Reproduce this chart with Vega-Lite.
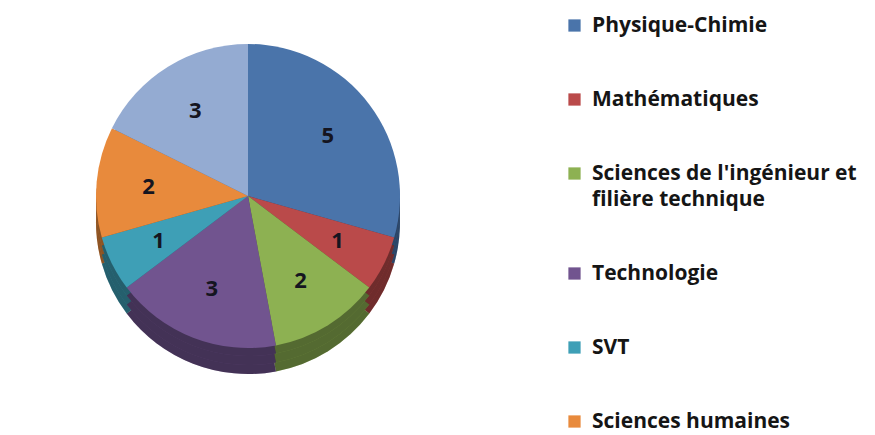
{
  "$schema": "https://vega.github.io/schema/vega-lite/v6.json",
  "width": 496,
  "height": 392,
  "padding": 0,
  "autosize": {"type": "pad"},
  "background": "white",
  "view": {"stroke": null},
  "data": {
    "values": [
      {"matiere": "Physique-Chimie", "n": 5, "rang": 1},
      {"matiere": "Mathématiques", "n": 1, "rang": 2},
      {"matiere": "Sciences de l'ingénieur et filière technique", "n": 2, "rang": 3},
      {"matiere": "Technologie", "n": 3, "rang": 4},
      {"matiere": "SVT", "n": 1, "rang": 5},
      {"matiere": "Sciences humaines", "n": 2, "rang": 6},
      {"matiere": "Autres", "n": 3, "rang": 7}
    ]
  },
  "encoding": {
    "theta": {"field": "n", "type": "quantitative", "stack": true},
    "order": {"field": "rang", "type": "quantitative"},
    "color": {
      "field": "matiere",
      "type": "nominal",
      "scale": {
        "domain": ["Physique-Chimie", "Mathématiques", "Sciences de l'ingénieur et filière technique", "Technologie", "SVT", "Sciences humaines", "Autres"],
        "range": ["#4A74AA", "#BA4A4A", "#8DB152", "#71548F", "#3E9FB6", "#E88A3C", "#94ABD2"]
      },
      "legend": {
        "title": null,
        "orient": "none",
        "legendX": 564,
        "legendY": 15,
        "values": ["Physique-Chimie", "Mathématiques", "Sciences de l'ingénieur et filière technique", "Technologie", "SVT", "Sciences humaines"],
        "symbolType": "square",
        "symbolSize": 150,
        "symbolStrokeWidth": 0,
        "labelFont": "Open Sans",
        "labelFontSize": 21,
        "labelFontWeight": "bold",
        "labelColor": "#151515",
        "labelLimit": 400,
        "labelOffset": 7,
        "rowPadding": 52,
        "labelExpr": "datum.label == \"Sciences de l'ingénieur et filière technique\" ? [\"Sciences de l'ingénieur et\", \"filière technique\"] : datum.label",
        "encode": {"labels": {"update": {"lineHeight": {"value": 26}}}}
      }
    }
  },
  "layer": [
    {"mark": {"type": "arc", "outerRadius": 152, "yOffset": 26}},
    {"mark": {"type": "arc", "outerRadius": 152, "yOffset": 26, "opacity": 0.4}, "encoding": {"color": {"value": "black"}}},
    {"mark": {"type": "arc", "outerRadius": 152, "yOffset": 17}},
    {"mark": {"type": "arc", "outerRadius": 152, "yOffset": 17, "opacity": 0.4}, "encoding": {"color": {"value": "black"}}},
    {"mark": {"type": "arc", "outerRadius": 152, "yOffset": 8}},
    {"mark": {"type": "arc", "outerRadius": 152, "yOffset": 8, "opacity": 0.4}, "encoding": {"color": {"value": "black"}}},
    {"mark": {"type": "arc", "outerRadius": 152}},
    {
      "mark": {"type": "text", "radius": 100, "font": "Open Sans", "fontSize": 22, "fontWeight": "bold"},
      "encoding": {"text": {"field": "n", "type": "quantitative"}, "color": {"value": "#151520"}}
    }
  ]
}
